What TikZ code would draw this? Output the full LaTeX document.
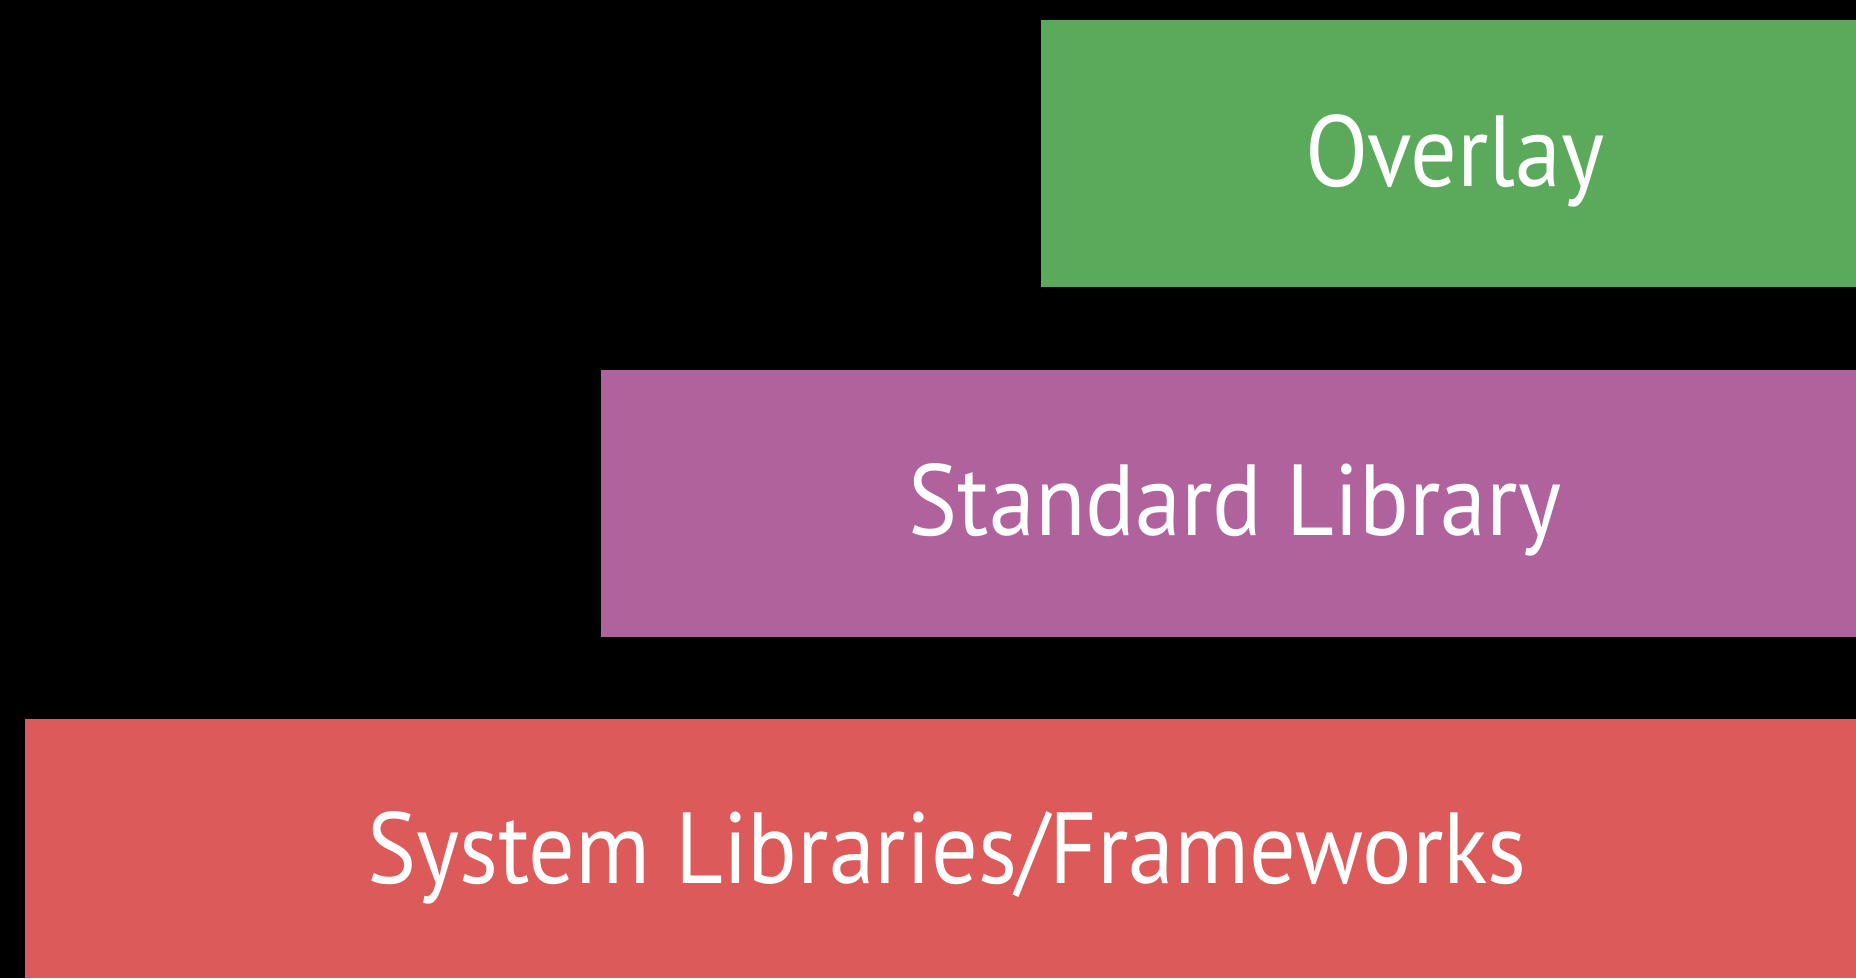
\documentclass[tikz,border=0pt]{standalone}
\usepackage{fontspec}
\setmainfont[FakeStretch=0.915]{PT Sans}
\definecolor{ovgreen}{HTML}{5BA95A}
\definecolor{stdpurple}{HTML}{B0629D}
\definecolor{sysred}{HTML}{DC5A5A}
\begin{document}
\begin{tikzpicture}[x=1pt,y=-1pt,
  layer/.style={draw=none,inner sep=0pt,outer sep=0pt},
  lbl/.style={text=white,inner sep=0pt,anchor=base,font=\fontsize{101}{101}\selectfont}]
\fill[black] (0,0) rectangle (1856,978);
\useasboundingbox (0,0) rectangle (1856,978);
\path[fill=ovgreen] (1041,20) rectangle (1856,287) node[layer] (ovbox) {};
\path[fill=stdpurple] (601,370) rectangle (1856,637) node[layer] (stdbox) {};
\path[fill=sysred] (25,719) rectangle (1856,978) node[layer] (sysbox) {};
\node[lbl] (ov) at (1455,186) {Overlay};
\node[lbl] (std) at (1235,535) {Standard Library};
\node[lbl] (sys) at (947,883) {System Libraries/Frameworks};
\end{tikzpicture}
\end{document}
